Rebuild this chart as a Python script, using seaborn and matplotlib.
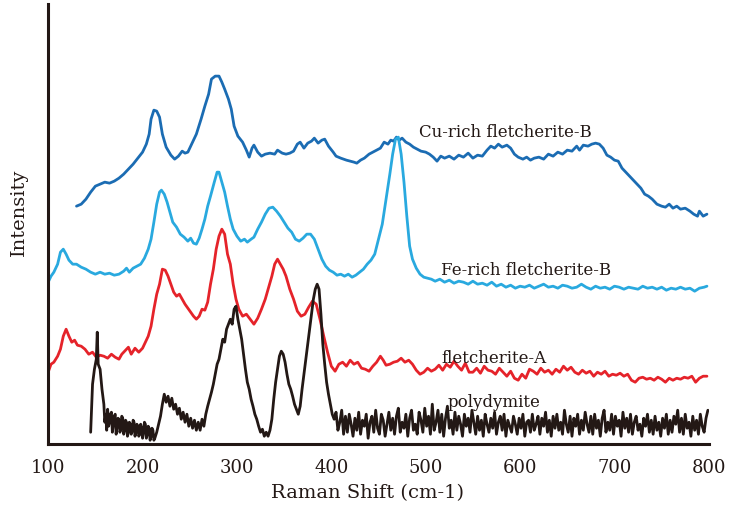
import pandas as pd
import seaborn as sns
import matplotlib.pyplot as plt

# Raman spectra (shift in cm-1, intensity in arbitrary stacked units)
cu_rich = [(130, 238), (135, 240), (140, 245), (145, 252), (150, 258), (155, 260), (160, 262), (165, 261),
           (170, 263), (175, 266), (180, 270), (185, 275), (190, 280), (195, 286), (200, 292), (204, 300),
           (207, 310), (209, 325), (212, 334), (215, 333), (218, 327), (221, 310), (225, 297), (230, 289),
           (234, 285), (238, 288), (242, 293), (245, 291), (248, 292), (252, 300), (257, 310), (262, 325),
           (266, 338), (270, 350), (273, 365), (277, 368), (281, 368), (284, 362), (287, 355), (291, 345),
           (294, 335), (297, 318), (301, 308), (306, 302), (310, 294), (313, 287), (316, 296), (318, 299),
           (322, 292), (326, 288), (330, 290), (335, 291), (340, 290), (343, 294), (348, 291), (352, 290),
           (356, 291), (360, 293), (364, 300), (367, 302), (371, 296), (375, 301), (379, 303), (382, 306),
           (386, 301), (390, 304), (393, 305), (397, 298), (402, 292), (405, 288), (410, 286), (416, 284),
           (420, 283), (424, 282), (427, 281), (431, 284), (435, 286), (440, 290), (444, 292), (448, 294),
           (452, 296), (456, 302), (460, 300), (463, 304), (466, 303), (469, 307), (472, 304), (475, 306),
           (479, 302), (483, 300), (487, 297), (491, 295), (495, 293), (500, 292), (504, 290), (508, 287),
           (512, 283), (516, 288), (520, 286), (525, 288), (530, 285), (535, 289), (540, 287), (545, 291),
           (550, 286), (555, 289), (560, 288), (565, 294), (569, 298), (573, 296), (577, 300), (581, 297),
           (586, 299), (590, 296), (594, 290), (598, 287), (603, 285), (607, 287), (611, 284), (615, 286),
           (620, 287), (625, 285), (630, 290), (635, 288), (640, 292), (645, 290), (650, 294), (655, 293),
           (660, 298), (663, 294), (667, 299), (672, 298), (676, 300), (680, 301), (684, 300), (688, 296),
           (692, 289), (696, 287), (700, 284), (704, 283), (708, 276), (712, 272), (716, 268), (720, 264),
           (724, 260), (728, 256), (732, 250), (736, 248), (740, 245), (745, 240), (750, 238), (754, 237),
           (758, 240), (762, 236), (766, 238), (770, 235), (775, 236), (780, 233), (784, 230), (788, 228),
           (790, 233), (794, 228), (798, 230)]

fe_rich = [(100, 162), (103, 168), (106, 172), (110, 180), (113, 192), (116, 195), (119, 190), (122, 184),
           (126, 180), (130, 180), (135, 177), (140, 175), (145, 172), (150, 170), (155, 172), (160, 170),
           (165, 171), (170, 169), (175, 170), (180, 173), (183, 176), (186, 172), (190, 176), (194, 178),
           (198, 180), (202, 186), (206, 195), (209, 205), (212, 222), (215, 240), (218, 252), (220, 254),
           (223, 250), (226, 242), (229, 232), (232, 222), (236, 217), (240, 210), (244, 207), (248, 203),
           (251, 206), (254, 201), (257, 200), (260, 206), (263, 215), (266, 225), (269, 238), (272, 248),
           (276, 262), (279, 272), (281, 272), (284, 262), (287, 252), (290, 238), (293, 225), (296, 215),
           (300, 208), (304, 203), (308, 205), (311, 202), (315, 205), (318, 207), (322, 215), (326, 222),
           (330, 230), (334, 236), (338, 237), (342, 233), (346, 228), (350, 222), (354, 216), (358, 212),
           (362, 205), (366, 203), (370, 206), (374, 210), (378, 210), (382, 205), (386, 195), (390, 185),
           (394, 178), (398, 174), (402, 172), (406, 169), (410, 170), (414, 168), (418, 170), (422, 167),
           (426, 169), (430, 172), (434, 175), (438, 180), (442, 184), (446, 190), (450, 205), (454, 220),
           (458, 245), (462, 270), (465, 290), (468, 305), (471, 307), (474, 290), (477, 262), (480, 228),
           (483, 198), (486, 185), (490, 176), (494, 170), (498, 167), (502, 166), (506, 165), (510, 163),
           (515, 165), (520, 162), (525, 164), (530, 161), (535, 163), (540, 162), (545, 160), (550, 163),
           (555, 160), (560, 161), (565, 159), (570, 162), (575, 158), (580, 160), (585, 157), (590, 159),
           (595, 156), (600, 158), (605, 157), (610, 159), (615, 156), (620, 158), (625, 160), (630, 157),
           (635, 158), (640, 156), (645, 159), (650, 158), (655, 156), (660, 157), (665, 160), (670, 157),
           (675, 155), (680, 158), (685, 156), (690, 157), (695, 155), (700, 158), (705, 157), (710, 155),
           (715, 157), (720, 156), (725, 155), (730, 158), (735, 156), (740, 157), (745, 155), (750, 157),
           (755, 154), (760, 156), (765, 155), (770, 157), (775, 155), (780, 156), (785, 153), (790, 156),
           (795, 157), (798, 158)]

fletcherite_a = [(100, 72), (103, 80), (106, 82), (110, 88), (113, 95), (116, 108), (119, 115), (122, 108),
                 (125, 102), (128, 104), (131, 99), (135, 98), (139, 95), (143, 90), (147, 92), (151, 87),
                 (155, 89), (159, 88), (163, 86), (167, 90), (171, 87), (175, 85), (178, 90), (182, 94),
                 (185, 97), (188, 90), (192, 96), (196, 92), (200, 96), (203, 102), (206, 108), (209, 118),
                 (212, 135), (215, 150), (218, 160), (221, 175), (224, 174), (227, 168), (230, 160),
                 (233, 152), (236, 148), (239, 150), (242, 145), (245, 140), (248, 136), (251, 132),
                 (254, 128), (257, 125), (260, 128), (263, 135), (266, 134), (269, 142), (272, 160),
                 (275, 175), (278, 195), (281, 208), (284, 215), (287, 210), (290, 190), (293, 180),
                 (296, 160), (299, 145), (302, 135), (306, 128), (310, 130), (314, 125), (318, 120),
                 (322, 126), (326, 135), (330, 145), (334, 158), (337, 168), (340, 180), (343, 185),
                 (346, 180), (349, 175), (352, 168), (356, 155), (360, 145), (364, 133), (368, 128),
                 (372, 130), (376, 137), (380, 143), (384, 140), (388, 125), (392, 108), (396, 92),
                 (400, 78), (404, 73), (408, 80), (412, 82), (416, 78), (420, 84), (424, 80), (428, 82),
                 (432, 76), (436, 75), (440, 73), (444, 78), (448, 82), (452, 88), (455, 84), (458, 79),
                 (462, 80), (466, 82), (470, 83), (474, 86), (478, 82), (482, 84), (486, 80), (490, 74),
                 (494, 70), (498, 72), (502, 76), (506, 73), (510, 75), (514, 79), (518, 74), (522, 80),
                 (526, 77), (530, 83), (534, 78), (538, 74), (542, 81), (546, 72), (550, 72), (554, 76),
                 (558, 71), (562, 78), (566, 74), (570, 73), (574, 70), (578, 76), (582, 72), (586, 68),
                 (590, 73), (594, 66), (598, 64), (602, 70), (606, 66), (610, 75), (614, 73), (618, 70),
                 (622, 76), (626, 72), (630, 74), (634, 70), (638, 75), (642, 72), (646, 78), (650, 74),
                 (654, 77), (658, 72), (662, 70), (666, 74), (670, 71), (674, 73), (678, 68), (682, 72),
                 (686, 70), (690, 73), (694, 68), (698, 70), (702, 69), (706, 71), (710, 68), (714, 70),
                 (718, 64), (722, 62), (726, 66), (730, 67), (734, 65), (738, 66), (742, 64), (746, 67),
                 (750, 65), (754, 62), (758, 66), (762, 64), (766, 66), (770, 65), (774, 67), (778, 66),
                 (782, 68), (786, 62), (790, 66), (794, 68), (798, 68)]

# polydymite: peak region as (shift, intensity) pairs ...
polydymite_peaks = [(145, 12), (147, 60), (149, 75), (151, 85), (152, 112), (153, 80), (155, 75), (157, 55),
                    (159, 40), (160, 22), (161, 30), (162, 14), (163, 35), (164, 18), (165, 22), (166, 30),
                    (167, 32), (168, 12), (169, 20), (170, 28), (171, 30), (172, 10), (173, 18), (174, 26),
                    (175, 25), (176, 12), (177, 15), (178, 28), (179, 26), (180, 10), (181, 14), (182, 24),
                    (183, 22), (184, 8), (185, 12), (186, 22), (187, 20), (188, 10), (189, 13), (190, 24),
                    (191, 22), (192, 8), (193, 12), (194, 20), (195, 18), (196, 8), (197, 10), (198, 20),
                    (199, 16), (200, 6), (201, 12), (202, 22), (203, 20), (204, 6), (205, 10), (206, 18),
                    (207, 16), (208, 4), (209, 8), (210, 16), (211, 14), (212, 4), (213, 6), (215, 12),
                    (217, 20), (219, 28), (221, 40), (223, 50), (225, 42), (227, 48), (229, 38), (231, 46),
                    (233, 35), (235, 40), (237, 30), (239, 36), (241, 25), (243, 32), (245, 22), (247, 30),
                    (249, 18), (251, 26), (253, 16), (255, 24), (257, 14), (259, 22), (261, 14), (263, 25),
                    (265, 18), (267, 30), (269, 38), (271, 45), (273, 52), (275, 60), (277, 70), (279, 80),
                    (281, 85), (283, 95), (285, 105), (287, 102), (289, 115), (291, 120), (293, 125), (295, 120),
                    (297, 135), (299, 138), (301, 125), (303, 115), (305, 105), (307, 90), (309, 75), (311, 62),
                    (313, 55), (315, 45), (317, 38), (319, 30), (321, 25), (323, 18), (325, 12), (327, 15),
                    (329, 8), (331, 12), (333, 8), (335, 14), (337, 25), (339, 45), (341, 62), (343, 75),
                    (345, 88), (347, 93), (349, 90), (351, 82), (353, 70), (355, 60), (357, 55), (359, 48),
                    (361, 40), (363, 35), (365, 30), (367, 38), (369, 55), (371, 70), (373, 85), (375, 100),
                    (377, 115), (379, 130), (381, 145), (383, 155), (385, 160), (387, 155), (389, 130),
                    (391, 100), (393, 80), (395, 62), (397, 50), (399, 40), (401, 30), (403, 25)]

# ... and the noisy tail sampled every 2 cm-1 from 405 to 799
polydymite_tail_shift = list(range(405, 800, 2))
polydymite_tail = [32, 14, 22, 34, 10, 28, 12, 30, 20, 8,
                   26, 14, 32, 10, 24, 18, 30, 6, 22, 28,
                   12, 34, 16, 10, 30, 24, 8, 20, 32, 14,
                   26, 10, 28, 36, 12, 22, 16, 30, 8, 26,
                   34, 14, 20, 10, 32, 24, 12, 36, 18, 28,
                   10, 40, 14, 22, 34, 12, 30, 8, 26, 38,
                   16, 24, 10, 32, 14, 28, 20, 8, 30, 18,
                   26, 12, 34, 22, 10, 28, 14, 24, 8, 30,
                   20, 12, 26, 16, 32, 10, 22, 28, 14, 30,
                   8, 24, 18, 12, 28, 20, 10, 26, 16, 30,
                   8, 22, 24, 12, 30, 14, 20, 28, 10, 26,
                   18, 32, 12, 24, 8, 28, 16, 30, 14, 22,
                   10, 34, 20, 12, 28, 8, 26, 18, 30, 10,
                   24, 14, 32, 20, 12, 28, 10, 30, 16, 24,
                   8, 26, 34, 12, 22, 14, 30, 10, 28, 18,
                   24, 8, 32, 16, 26, 12, 30, 10, 22, 28,
                   14, 20, 8, 26, 18, 30, 12, 24, 10, 28,
                   14, 22, 8, 26, 16, 30, 10, 24, 12, 28,
                   20, 34, 12, 26, 10, 30, 16, 22, 8, 28,
                   14, 24, 10, 30, 18, 12, 26, 34]
polydymite = polydymite_peaks + list(zip(polydymite_tail_shift, polydymite_tail))

series_names = ['Cu-rich fletcherite-B', 'Fe-rich fletcherite-B', 'fletcherite-A', 'polydymite']
series_colors = ['#1b6cb3', '#29a9df', '#e5232a', '#231815']
# label anchor (shift, intensity) for each spectrum
label_pos = [(493, 313), (516, 175), (517, 87), (523, 43)]
x_ticks = [100, 200, 300, 400, 500, 600, 700, 800]

frames = []
for name, pts in zip(series_names, [cu_rich, fe_rich, fletcherite_a, polydymite]):
    df = pd.DataFrame(pts, columns=['shift', 'intensity'])
    df['sample'] = name
    frames.append(df)
spectra = pd.concat(frames, ignore_index=True)

sns.set_style('white')
plt.rcParams['font.family'] = ['DejaVu Serif']

fig = plt.figure(figsize=(7.3, 5.1), dpi=100)
ax = fig.add_axes([0.066, 0.127, 0.905, 0.863])

sns.lineplot(data=spectra, x='shift', y='intensity', hue='sample', hue_order=series_names,
             palette=series_colors, estimator=None, sort=False, linewidth=2.0, legend=False, ax=ax)

for name, (lx, ly) in zip(series_names, label_pos):
    ax.text(lx, ly, name, fontsize=12, color='#231815', va='center', ha='left')

ax.set_xlim(100, 800)
ax.set_ylim(0, 440)
ax.set_xticks(x_ticks)
ax.set_yticks([])
ax.tick_params(axis='x', direction='in', length=3, width=2, labelsize=13, pad=10, colors='#231815')

sns.despine(ax=ax)
for side in ['left', 'bottom']:
    ax.spines[side].set_linewidth(2.2)
    ax.spines[side].set_color('#231815')

ax.set_xlabel('Raman Shift (cm-1)', fontsize=14, color='#231815')
ax.set_ylabel('Intensity', fontsize=14, color='#231815')
ax.yaxis.set_label_coords(-0.03, 0.53)
ax.xaxis.set_label_coords(0.484, -0.088)

fig.savefig('out.png', dpi=100)
plt.close(fig)
